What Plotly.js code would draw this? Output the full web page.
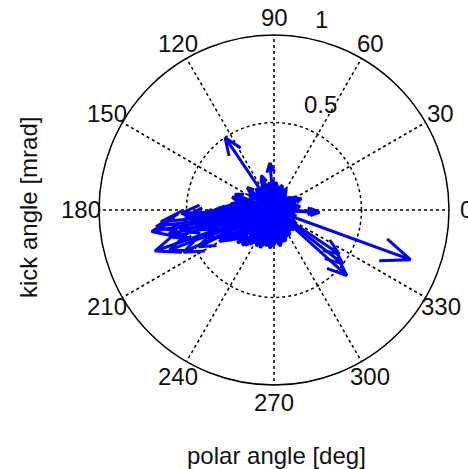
<!DOCTYPE html>
<html>
<head>
<meta charset="utf-8">
<script src="https://cdn.plot.ly/plotly-3.0.1.min.js"></script>
<style>html,body{margin:0;padding:0;background:#fff;}#chart{width:468px;height:469px;}</style>
</head>
<body>
<div id="chart"></div>
<script>
// Compass vectors: kick angle magnitude [mrad] and polar angle [deg]
const kickMag = [
  0.50, 0.83, 0.56, 0.50, 0.45, 0.26, 0.27, 0.21,
  0.71, 0.72, 0.65, 0.64, 0.57, 0.53, 0.51, 0.46, 0.42, 0.35,
  0.60, 0.55, 0.48, 0.40, 0.38, 0.33, 0.30, 0.44, 0.62, 0.36, 0.48, 0.68,
  0.12, 0.15, 0.10, 0.17, 0.09, 0.12, 0.08, 0.11, 0.14, 0.09, 0.15, 0.12, 0.10,
  0.14, 0.18, 0.12, 0.16, 0.20, 0.17, 0.24, 0.20, 0.25, 0.28, 0.26, 0.22, 0.24,
  0.20, 0.25, 0.22, 0.19, 0.26, 0.20, 0.23, 0.18, 0.21, 0.19, 0.21, 0.18, 0.20,
  0.16, 0.19, 0.15, 0.17, 0.13, 0.16, 0.12, 0.14, 0.10, 0.13, 0.09,
  0.07, 0.06, 0.05, 0.06, 0.08, 0.10, 0.12, 0.11, 0.09, 0.10, 0.08, 0.06,
  0.15, 0.18, 0.17, 0.16, 0.22, 0.14,
  0.30, 0.28, 0.32, 0.27, 0.24, 0.22, 0.23, 0.21, 0.22, 0.20, 0.21, 0.19, 0.17, 0.16, 0.15,
  0.14, 0.18, 0.20, 0.22, 0.24, 0.20, 0.18, 0.25, 0.16, 0.14, 0.13, 0.12, 0.15, 0.17, 0.13,
  0.12, 0.10, 0.13, 0.15, 0.12, 0.11, 0.13, 0.24, 0.16, 0.19, 0.26, 0.29, 0.31, 0.33, 0.30
];
const polarDeg = [
  124, 340, 318, 322, 326, 357, 95, 110,
  190, 199, 186, 201, 205, 182, 184, 193, 202, 181,
  195, 192, 187, 196, 183, 205, 190, 185, 193, 210, 206, 188,
  0, 8, 15, 23, 30, 38, 45, 52, 60, 68, 72, 80, 88,
  105, 112, 118, 130, 140, 148, 158, 165, 172, 176, 188, 194, 200,
  208, 214, 220, 226, 231, 238, 244, 250, 256, 262, 268, 272, 278,
  284, 290, 296, 302, 308, 315, 320, 330, 336, 345, 352,
  5, 20, 48, 75, 125, 160, 185, 215, 245, 275, 305, 340,
  190, 197, 182, 100, 235, 28,
  215, 222, 210, 228, 235, 242, 250, 258, 264, 270, 280, 288, 295, 300, 310,
  318, 205, 198, 183, 178, 170, 162, 163, 150, 142, 135, 125, 115, 92, 82,
  64, 40, 18, 30, 355, 345, 325, 358, 86, 232, 218, 200, 192, 186, 180
];
const angularTicks = [0, 30, 60, 90, 120, 150, 180, 210, 240, 270, 300, 330];
const radialTicks = [0.5, 1];
const radialTickText = ['0.5', '1'];

// Build compass arrows (shaft + arrowhead) like MATLAB's compass()
const headScale = Math.sqrt(0.8 * 0.8 + 0.08 * 0.08);
const headAngle = Math.atan2(0.08, 0.8) * 180 / Math.PI;
const rr = [], tt = [];
for (let i = 0; i < kickMag.length; i++) {
  const m = kickMag[i], a = polarDeg[i];
  rr.push(0, m, m * headScale, m, m * headScale, null);
  tt.push(a, a, a + headAngle, a, a - headAngle, null);
}

const W = 468, H = 469;
const dom = {x0: 99, x1: 449, y0: 35, y1: 385};   // polar domain in pixels
const cx = (dom.x0 + dom.x1) / 2, cy = (dom.y0 + dom.y1) / 2, R = (dom.x1 - dom.x0) / 2;

const font = 'Liberation Sans, Arial, Helvetica, sans-serif';
const tf = {family: font, size: 24, color: '#111'};
const data = [{
  type: 'scatterpolar',
  mode: 'lines',
  r: rr,
  theta: tt,
  connectgaps: false,
  line: {color: '#0000ff', width: 3},
  hoverinfo: 'skip',
  showlegend: false
}];

const annotations = [];
// angular tick labels centred at 1.1 x outer radius (MATLAB polar style)
angularTicks.forEach(a => {
  const rad = a * Math.PI / 180;
  annotations.push({
    text: String(a), xref: 'paper', yref: 'paper',
    x: (cx + 1.1 * R * Math.cos(rad)) / W, y: 1 - (cy - 1.1 * R * Math.sin(rad)) / H,
    xanchor: 'center', yanchor: 'middle', showarrow: false, font: tf
  });
});
// radial tick labels
const radialLabelPos = [[320, 105], [321, 20]];
radialTickText.forEach((t, i) => {
  annotations.push({
    text: t, xref: 'paper', yref: 'paper',
    x: radialLabelPos[i][0] / W, y: 1 - radialLabelPos[i][1] / H,
    xanchor: 'center', yanchor: 'middle', showarrow: false, font: tf
  });
});
annotations.push(
  {text: 'kick angle [mrad]', xref: 'paper', yref: 'paper', x: 28 / W, y: 1 - 208 / H,
   xanchor: 'center', yanchor: 'middle', showarrow: false, textangle: -90, font: tf},
  {text: 'polar angle [deg]', xref: 'paper', yref: 'paper', x: 276 / W, y: 1 - 455 / H,
   xanchor: 'center', yanchor: 'middle', showarrow: false, font: tf}
);

const layout = {
  width: W, height: H,
  margin: {l: 0, r: 0, t: 0, b: 0},
  paper_bgcolor: '#fff',
  showlegend: false,
  font: tf,
  polar: {
    domain: {x: [dom.x0 / W, dom.x1 / W], y: [1 - dom.y1 / H, 1 - dom.y0 / H]},
    bgcolor: '#fff',
    angularaxis: {
      direction: 'counterclockwise', rotation: 0,
      tickvals: angularTicks, showticklabels: false,
      ticks: '', showline: true, linecolor: '#000', linewidth: 1.5,
      gridcolor: '#000', gridwidth: 1.5, griddash: 'dot', layer: 'below traces'
    },
    radialaxis: {
      range: [0, 1], angle: 78,
      tickvals: radialTicks, showticklabels: false,
      ticks: '', showline: false,
      gridcolor: '#000', gridwidth: 1.5, griddash: 'dot', layer: 'below traces'
    }
  },
  annotations: annotations
};

Plotly.newPlot('chart', data, layout, {staticPlot: true, displayModeBar: false});
</script>
</body>
</html>
